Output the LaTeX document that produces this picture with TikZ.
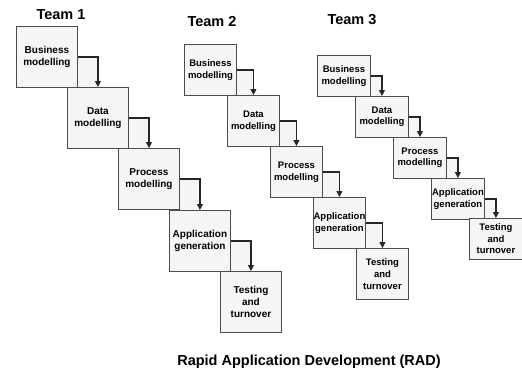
\documentclass[tikz,border=0pt]{standalone}
\usepackage{fontspec}
\setmainfont{Liberation Sans}
\usetikzlibrary{arrows.meta,positioning}

\tikzset{
  stage/.style={draw=black!70, fill=black!4, line width=0.9pt, inner sep=0pt,
    align=center, anchor=north west},
  teamone/.style={stage, text width=61pt, minimum height=61pt,
    font=\bfseries\fontsize{10}{12}\selectfont},
  teamtwo/.style={stage, text width=52pt, minimum height=51pt,
    font=\bfseries\fontsize{9.5}{11.8}\selectfont},
  teamthree/.style={stage, text width=53pt, minimum height=41pt,
    font=\bfseries\fontsize{9.5}{11.5}\selectfont},
  flow/.style={draw=black!85, line width=1.1pt, -{Triangle[length=6pt,width=6pt]}},
  gapfill/.style={fill=black!4},
  heading/.style={font=\bfseries\fontsize{14.5}{16}\selectfont}
}

\begin{document}
\begin{tikzpicture}[x=1pt,y=-1pt]
  \useasboundingbox (0,0) rectangle (522,372);

  % Team 1
  \node[heading] (team1) at (61,15) {Team 1};
  \node[teamone] (bus1) at (16,26) {Business\\modelling};
  \node[teamone] (dat1) at (67,87) {Data\\modelling};
  \node[teamone] (pro1) at (118,148) {Process\\modelling};
  \node[teamone] (app1) at (169,210) {Application\\generation};
  \node[teamone] (tes1) at (220,271) {Testing\\and\\turnover};

  % Team 2
  \node[heading] (team2) at (212,22) {Team 2};
  \node[teamtwo] (bus2) at (184,44) {Business\\modelling};
  \node[teamtwo] (dat2) at (227,95) {Data\\modelling};
  \node[teamtwo] (pro2) at (270,146) {Process\\modelling};
  \node[teamtwo] (app2) at (313,197) {Application\\generation};
  \node[teamtwo] (tes2) at (356,248) {Testing\\and\\turnover};

  % Team 3
  \node[heading] (team3) at (352,20) {Team 3};
  \node[teamthree] (bus3) at (317,55) {Business\\modelling};
  \node[teamthree] (dat3) at (355,96) {Data\\modelling};
  \node[teamthree] (pro3) at (393,137) {Process\\modelling};
  \node[teamthree] (app3) at (431,178) {Application\\generation};
  \node[teamthree] (tes3) at (469,218) {Testing\\and\\turnover};

  % hand-over arrows
  \foreach \t in {1,2,3} {
    \fill[gapfill] (bus\t.east) rectangle (dat\t.north);
    \fill[gapfill] (dat\t.east) rectangle (pro\t.north);
    \fill[gapfill] (pro\t.east) rectangle (app\t.north);
    \fill[gapfill] (app\t.east) rectangle (tes\t.north);
    \draw[flow] (bus\t.east) -| (dat\t.north);
    \draw[flow] (dat\t.east) -| (pro\t.north);
    \draw[flow] (pro\t.east) -| (app\t.north);
    \draw[flow] (app\t.east) -| (tes\t.north);
  }

  % Caption
  \node[heading] (rad) at (309,362) {Rapid Application Development (RAD)};
\end{tikzpicture}
\end{document}
